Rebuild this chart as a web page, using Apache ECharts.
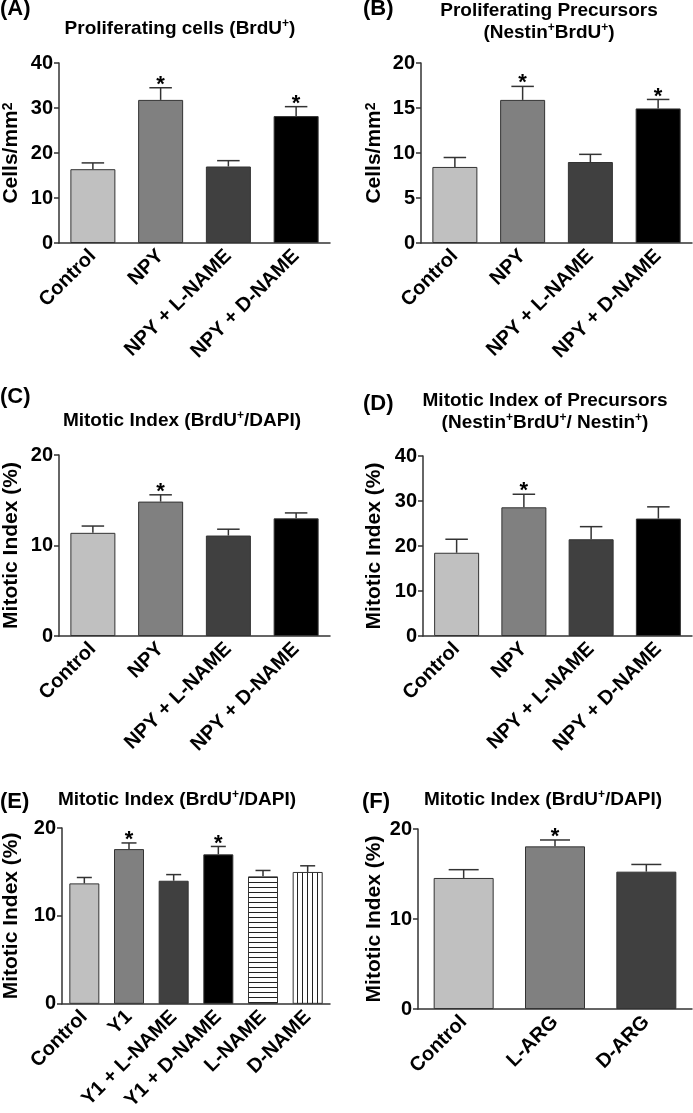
<!DOCTYPE html>
<html><head><meta charset="utf-8">
<script src="https://cdn.jsdelivr.net/npm/echarts@6/dist/echarts.min.js"></script>
<style>html,body{margin:0;padding:0;background:#fff}#c{width:693px;height:1113px}</style>
</head><body><div id="c"></div>
<script>
// ---- data ----
const catsNPY = ['Control', 'NPY', 'NPY + L-NAME', 'NPY + D-NAME'];
const catsY1 = ['Control', 'Y1', 'Y1 + L-NAME', 'Y1 + D-NAME', 'L-NAME', 'D-NAME'];
const catsARG = ['Control', 'L-ARG', 'D-ARG'];

const meanA = [16.4, 31.8, 17.0, 28.2];
const semA  = [1.4, 2.7, 1.3, 2.1];
const sigA  = [0, 1, 0, 1];

const meanB = [8.45, 15.9, 9.0, 14.95];
const semB  = [1.05, 1.5, 0.85, 1.0];
const sigB  = [0, 1, 0, 1];

const meanC = [11.4, 14.85, 11.1, 13.0];
const semC  = [0.75, 0.75, 0.7, 0.6];
const sigC  = [0, 1, 0, 0];

const meanD = [18.5, 28.6, 21.5, 26.1];
const semD  = [3.0, 2.9, 2.8, 2.6];
const sigD  = [0, 1, 0, 0];

const meanE = [13.7, 17.6, 14.0, 17.0, 14.5, 15.0];
const semE  = [0.67, 0.7, 0.7, 0.9, 0.67, 0.7];
const sigE  = [0, 1, 0, 1, 0, 0];

const meanF = [14.56, 18.07, 15.26];
const semF  = [0.92, 0.71, 0.8];
const sigF  = [0, 1, 0];

const ticksMaxA = 40, ticksMaxB = 20, ticksMaxC = 20, ticksMaxD = 40, ticksMaxE = 20, ticksMaxF = 20;

// ---- styling ----
const FONT = '"Liberation Sans", Arial, Helvetica, sans-serif';
function stripe(horizontal) {
  const c = document.createElement('canvas');
  c.width = horizontal ? 8 : 5; c.height = horizontal ? 5 : 8;
  const g = c.getContext('2d');
  g.fillStyle = '#fff'; g.fillRect(0, 0, c.width, c.height);
  g.fillStyle = '#222';
  if (horizontal) g.fillRect(0, 2, c.width, 1); else g.fillRect(2, 0, 1, c.height);
  return c;
}
const greys = ['#c0c0c0', '#808080', '#404040', '#000000'];
const fillsE = greys.concat([{ image: stripe(true), repeat: 'repeat' }, { image: stripe(false), repeat: 'repeat' }]);

const panels = [
  { cats: catsNPY, mean: meanA, sem: semA, sig: sigA, fills: greys, grid: { left: 58, top: 63, width: 272, height: 180 }, max: ticksMaxA, interval: 10, name: 'Cells/mm{s|2}', nameGap: 37, barW: 45 },
  { cats: catsNPY, mean: meanB, sem: semB, sig: sigB, fills: greys, grid: { left: 421, top: 63, width: 271, height: 180 }, max: ticksMaxB, interval: 5, name: 'Cells/mm{s|2}', nameGap: 36, barW: 45 },
  { cats: catsNPY, mean: meanC, sem: semC, sig: sigC, fills: greys, grid: { left: 58, top: 455, width: 272, height: 181 }, max: ticksMaxC, interval: 10, name: 'Mitotic Index (%)', nameGap: 37, barW: 45 },
  { cats: catsNPY, mean: meanD, sem: semD, sig: sigD, fills: greys, grid: { left: 423, top: 456, width: 269, height: 180 }, max: ticksMaxD, interval: 10, name: 'Mitotic Index (%)', nameGap: 38, barW: 45 },
  { cats: catsY1, mean: meanE, sem: semE, sig: sigE, fills: fillsE, grid: { left: 58, top: 828, width: 272, height: 180 }, max: ticksMaxE, interval: 10, name: 'Mitotic Index (%)', nameGap: 40, barW: 30 },
  { cats: catsARG, mean: meanF, sem: semF, sig: sigF, fills: greys, grid: { left: 418, top: 829, width: 274, height: 180 }, max: ticksMaxF, interval: 10, name: 'Mitotic Index (%)', nameGap: 33, barW: 60 }
];

const grids = [], xAxes = [], yAxes = [], series = [];
panels.forEach((p, k) => {
  grids.push(p.grid);
  xAxes.push({
    type: 'category', gridIndex: k, data: p.cats,
    axisTick: { show: false },
    axisLine: { lineStyle: { color: '#333', width: 1.5 } },
    axisLabel: { rotate: 45, interval: 0, margin: 10, color: '#000', fontSize: 20, fontWeight: 'bold', fontFamily: FONT }
  });
  yAxes.push({
    type: 'value', gridIndex: k, min: 0, max: p.max, interval: p.interval,
    splitLine: { show: false },
    axisLine: { show: true, lineStyle: { color: '#333', width: 1.5 } },
    axisTick: { show: true, length: 5, lineStyle: { color: '#333', width: 1.5 } },
    axisLabel: { margin: 6, color: '#000', fontSize: 20, fontWeight: 'bold', fontFamily: FONT },
    name: p.name, nameLocation: 'middle', nameRotate: 90, nameGap: p.nameGap,
    nameTextStyle: { color: '#000', fontSize: 21, fontWeight: 'bold', fontFamily: FONT,
      rich: { s: { fontSize: 14, fontWeight: 'bold', fontFamily: FONT, color: '#000', verticalAlign: 'top' } } }
  });
  series.push({
    type: 'bar', xAxisIndex: k, yAxisIndex: k, barWidth: p.barW,
    itemStyle: { borderColor: '#333', borderWidth: 1 },
    data: p.mean.map((v, i) => ({ value: v, itemStyle: { color: p.fills[i] } })),
    z: 2
  });
  const bw = p.barW;
  series.push({
    type: 'custom', xAxisIndex: k, yAxisIndex: k, z: 3,
    encode: { x: 0, y: 1 },
    data: p.mean.map((v, i) => [i, v, v + p.sem[i], p.sig[i]]),
    renderItem: function (params, api) {
      const i = api.value(0), m = api.value(1), t = api.value(2), s = api.value(3);
      const p0 = api.coord([i, m]), p1 = api.coord([i, t]);
      const hw = bw / 4;
      const st = { stroke: '#333', lineWidth: 1.5 };
      const ch = [
        { type: 'line', shape: { x1: p0[0], y1: p0[1], x2: p1[0], y2: p1[1] }, style: st },
        { type: 'line', shape: { x1: p1[0] - hw, y1: p1[1], x2: p1[0] + hw, y2: p1[1] }, style: st }
      ];
      if (s) ch.push({ type: 'text', x: p1[0], y: p1[1] - 3, style: { text: '*', fill: '#000', font: 'bold 22px ' + FONT, align: 'center', verticalAlign: 'middle' } });
      return { type: 'group', children: ch };
    }
  });
});

const tRich = {
  b: { fontSize: 19, fontWeight: 'bold', fontFamily: FONT, color: '#000', lineHeight: 22 },
  s: { fontSize: 12, fontWeight: 'bold', fontFamily: FONT, color: '#000', verticalAlign: 'top' }
};
function T(text, left, top) {
  return { text: text, left: left, top: top, textAlign: 'center', padding: 0, textStyle: { rich: tRich } };
}
function L(text, left, top) {
  return { text: text, left: left, top: top, padding: 0, textStyle: { fontSize: 22, fontWeight: 'bold', fontFamily: FONT, color: '#000' } };
}
const titles = [
  L('(A)', 0, -2), T('{b|Proliferating cells (BrdU}{s|+}{b|)}', 180, 18),
  L('(B)', 363, -2), T('{b|Proliferating Precursors}\n{b|(Nestin}{s|+}{b|BrdU}{s|+}{b|)}', 549, 0),
  L('(C)', 0, 386), T('{b|Mitotic Index (BrdU}{s|+}{b|/DAPI)}', 182, 410),
  L('(D)', 363, 393), T('{b|Mitotic Index of Precursors}\n{b|(Nestin}{s|+}{b|BrdU}{s|+}{b|/ Nestin}{s|+}{b|)}', 545, 390),
  L('(E)', 0, 791), T('{b|Mitotic Index (BrdU}{s|+}{b|/DAPI)}', 177, 789),
  L('(F)', 362, 791), T('{b|Mitotic Index (BrdU}{s|+}{b|/DAPI)}', 543, 789)
];

const chart = echarts.init(document.getElementById('c'), null, { renderer: 'canvas' });
chart.setOption({
  animation: false,
  backgroundColor: '#fff',
  title: titles,
  grid: grids, xAxis: xAxes, yAxis: yAxes, series: series
});
</script></body></html>
